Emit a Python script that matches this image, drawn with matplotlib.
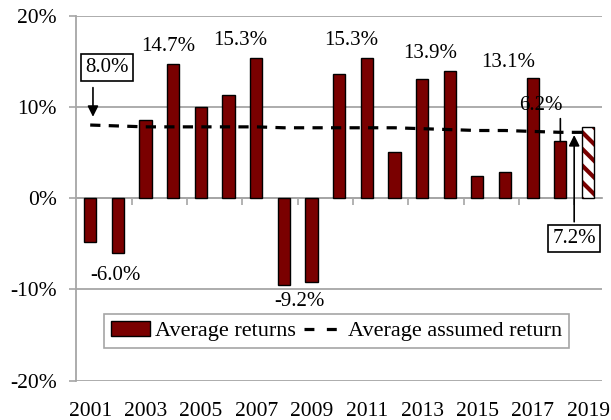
import matplotlib
matplotlib.use("Agg")
import matplotlib.pyplot as plt
from matplotlib.patches import Patch
from matplotlib.lines import Line2D
from matplotlib.ticker import FuncFormatter
import numpy as np

plt.rcParams['font.family'] = ['Liberation Serif', 'DejaVu Serif']
plt.rcParams['hatch.linewidth'] = 3.0

# data
years = list(range(2001, 2020))
avg_returns = [-4.8, -6.0, 8.5, 14.7, 10.0, 11.3, 15.3, -9.5, -9.2, 13.6,
               15.3, 5.0, 13.0, 13.9, 2.4, 2.8, 13.1, 6.2, 7.8]
assumed_return = [8.0, 7.9, 7.8, 7.8, 7.8, 7.8, 7.8, 7.7, 7.7, 7.7,
                  7.7, 7.7, 7.6, 7.5, 7.4, 7.4, 7.3, 7.2, 7.2]
tick_years = years[::2]

BAR = '#7a0000'
GRID = '#a6a6a6'
FS = 15
FS_TICK = 15.5
FS_LEG = 16

fig = plt.figure(figsize=(6.11, 4.2), dpi=100)
ax = fig.add_axes([0.125, 0.094, 0.86, 0.869])

x = np.arange(len(years))
# all but the last bar (estimate) are solid
ax.bar(x[:-1], avg_returns[:-1], width=0.44, color=BAR, edgecolor='black',
       linewidth=1.0, zorder=2)
ax.bar(x[-1:], avg_returns[-1:], width=0.44, facecolor='white', edgecolor=BAR,
       hatch='\\\\', linewidth=0, zorder=2)
ax.bar(x[-1:], avg_returns[-1:], width=0.44, fill=False, edgecolor='black',
       linewidth=1.0, zorder=2)

ax.plot(x, assumed_return, color='black', lw=2.3, dashes=(3.2, 2.6), zorder=3)

ax.set_xlim(-0.5, len(years) - 0.5)
ax.set_ylim(-20, 20)
ax.set_yticks([-20, -10, 0, 10, 20])
ax.yaxis.set_major_formatter(FuncFormatter(lambda v, p: f'{v:.0f}%'))
ax.tick_params(axis='y', length=5, color=GRID, width=1.2, pad=9, labelsize=FS_TICK)
ax.grid(axis='y', color=GRID, lw=1.3, zorder=0)
ax.set_axisbelow(True)

ax.set_xticks(x[::2])
ax.set_xticklabels([str(y) for y in tick_years])
ax.tick_params(axis='x', length=0, pad=15.5, labelsize=FS_TICK)

for s in ['top', 'right', 'bottom']:
    ax.spines[s].set_visible(False)
ax.spines['left'].set_color(GRID)
ax.spines['left'].set_linewidth(1.3)

# zero line with category-boundary ticks
zero = ax.secondary_xaxis(0.5)
zero.set_alignment('bottom')
zero.set_xticks(x[1:-1:2] + 0.5)
zero.tick_params(length=5, color=GRID, width=1.2, labelbottom=False, labeltop=False)
for s in zero.spines.values():
    s.set_color(GRID)
    s.set_linewidth(1.3)

# value labels
labels = {2002: (0.9, -8.5), 2004: (2.82, 16.6), 2007: (5.44, 17.3),
          2009: (7.58, -11.3), 2011: (9.45, 17.3), 2014: (12.28, 15.8),
          2017: (15.1, 14.9), 2018: (16.3, 10.1)}
for yr, (lx, ly) in labels.items():
    v = avg_returns[years.index(yr)]
    ax.text(lx, ly, f'{v:.1f}%', ha='center', va='center', fontsize=FS, zorder=5)

i18 = years.index(2018)
ax.annotate('', xy=(i18, avg_returns[i18]), xytext=(i18, 8.7),
            arrowprops=dict(arrowstyle='-', color='black', lw=1.2,
                            shrinkA=0, shrinkB=0), zorder=4)

# boxed callouts for the assumed return
box = dict(boxstyle='square,pad=0.2', fc='white', ec='black', lw=1.2)
ax.text(0.61, 14.3, f'{assumed_return[0]:.1f}%', ha='center', va='center',
        fontsize=FS, bbox=box, zorder=5)
ax.annotate('', xy=(0.1, 8.9), xytext=(0.1, 12.1),
            arrowprops=dict(arrowstyle='-|>', color='black', lw=1.2,
                            mutation_scale=16, shrinkA=0, shrinkB=0), zorder=5)
ax.text(17.5, -4.4, f'{assumed_return[-1]:.1f}%', ha='center', va='center',
        fontsize=FS, bbox=box, zorder=5)
ax.annotate('', xy=(17.5, 6.9), xytext=(17.5, -2.6),
            arrowprops=dict(arrowstyle='-|>', color='black', lw=1.2,
                            mutation_scale=16, shrinkA=0, shrinkB=0), zorder=5)

handles = [Patch(facecolor=BAR, edgecolor='black', linewidth=1.0),
           Line2D([0], [0], color='black', lw=2.3, dashes=(3.1, 3.9))]
leg = ax.legend(handles, ['Average returns', 'Average assumed return'],
                loc='center', bbox_to_anchor=(0.4955, 0.1355), ncol=2,
                fontsize=FS_LEG, frameon=True, fancybox=False, framealpha=1,
                handlelength=1.75, handletextpad=0.25, columnspacing=0.35,
                borderpad=0.3, borderaxespad=0)
leg.get_frame().set_edgecolor(GRID)
leg.get_frame().set_linewidth(1.2)

fig.savefig('out.png', dpi=100)
